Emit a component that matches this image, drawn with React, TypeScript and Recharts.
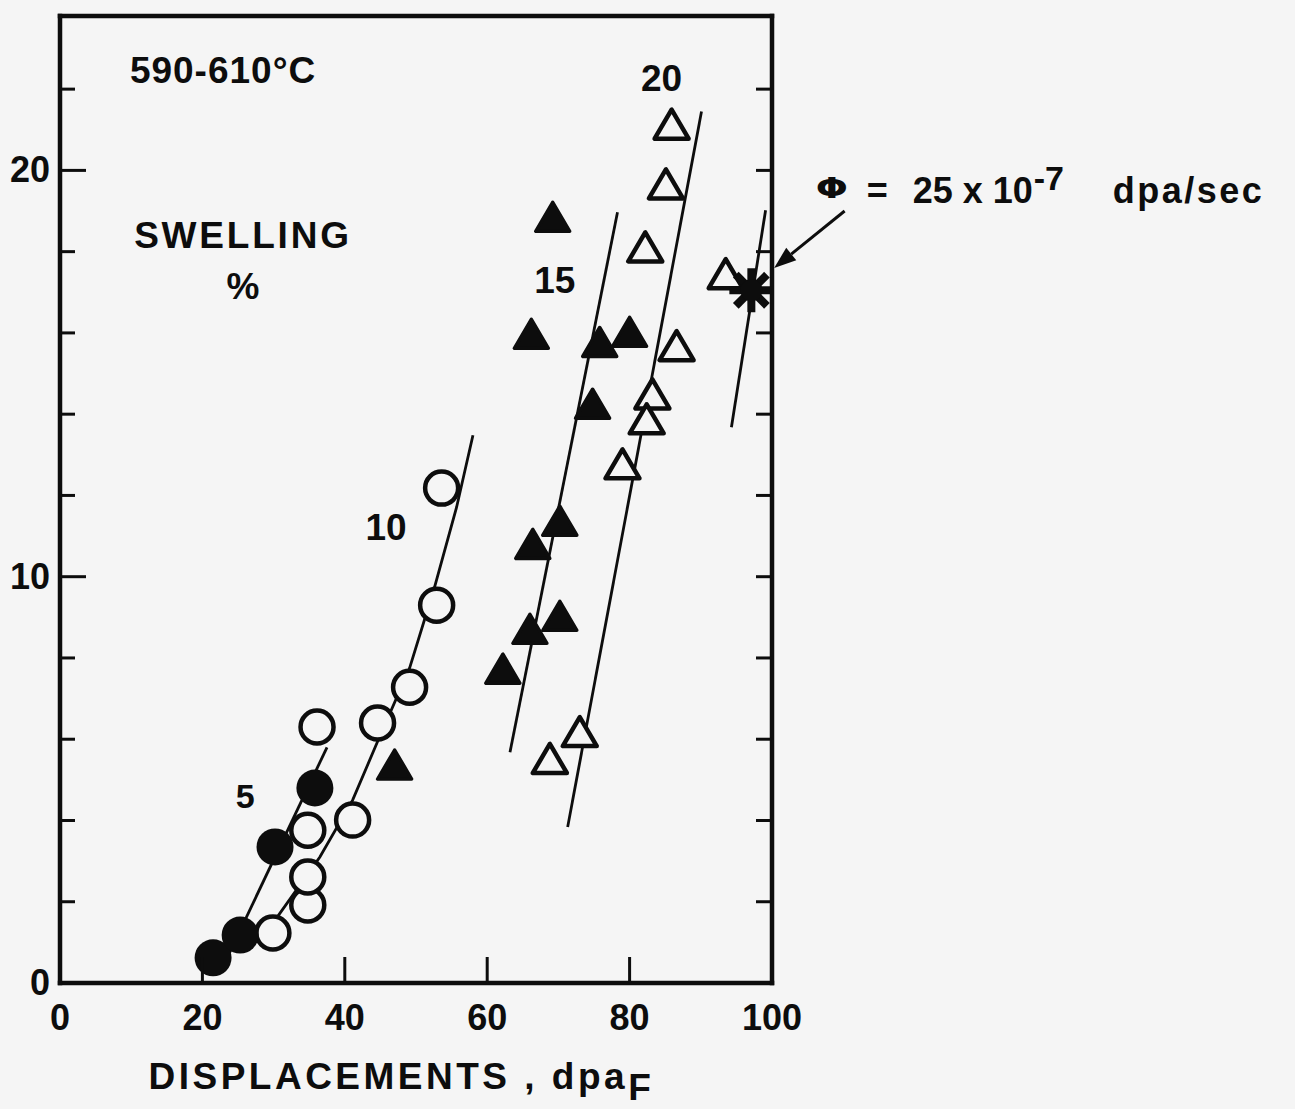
import React from "react";
import {
  ScatterChart,
  Scatter,
  XAxis,
  YAxis,
  ReferenceDot,
  ReferenceLine,
} from "recharts";

// Swelling (%) vs displacement dose, one group per flux (x10^-7 dpa/sec)
const flux5X = [21.5, 25.3, 30.2, 35.8];
const flux5Y = [0.62, 1.18, 3.35, 4.8];

const flux10X = [29.9, 34.8, 34.8, 34.8, 36.1, 41.1, 44.6, 49.1, 52.9, 53.6];
const flux10Y = [1.23, 1.92, 2.61, 3.76, 6.3, 4.01, 6.4, 7.28, 9.3, 12.18];

const flux15X = [47.0, 62.2, 66.0, 70.2, 66.4, 70.2, 74.8, 75.8, 80.0, 66.2, 69.2];
const flux15Y = [5.34, 7.7, 8.68, 9.0, 10.77, 11.34, 14.22, 15.74, 15.99, 15.94, 18.82];

const flux20X = [85.9, 85.1, 82.2, 93.5, 86.6, 83.2, 82.4, 79.0, 73.0, 68.8];
const flux20Y = [21.1, 19.63, 18.08, 17.42, 15.65, 14.46, 13.85, 12.74, 6.15, 5.49];

const flux25X = [97.1];
const flux25Y = [17.05];

// hand-drawn trend lines through each group
const trend5X = [22.6, 37.5];
const trend5Y = [0.3, 5.8];
const trend10X = [28.8, 30.9, 36.5, 41.1, 44.5, 49.1, 52.6, 55.7, 58.0];
const trend10Y = [1.2, 1.72, 3.1, 4.5, 5.9, 7.75, 9.74, 11.71, 13.48];
const trend15X = [63.2, 78.3];
const trend15Y = [5.68, 18.97];
const trend20X = [71.3, 90.1];
const trend20Y = [3.84, 21.45];
const trend25X = [94.3, 99.1];
const trend25Y = [13.68, 19.02];

const xTicks = [0, 20, 40, 60, 80, 100];
const xTopTicks = [20, 40, 60, 80];
const yTicks = [0, 2, 4, 6, 8, 10, 12, 14, 16, 18, 20, 22];
const yRightTicks = [2, 4, 6, 8, 10, 12, 14, 16, 18, 20, 22];

const zip = (xs: number[], ys: number[]) => xs.map((x, i) => ({ x, y: ys[i] }));

const BG = "#f5f5f5";
const INK = "#0d0d0d";
const FONT = '"Liberation Sans", Arial, Helvetica, sans-serif';

const W = 1295;
const H = 1109;

const OpenCircle = ({ cx, cy }: any) => (
  <circle cx={cx} cy={cy} r={16.5} fill={BG} stroke={INK} strokeWidth={4.5} />
);

const FilledCircle = ({ cx, cy }: any) => (
  <circle cx={cx} cy={cy} r={18.5} fill={INK} />
);

const triPoints = (cx: number, cy: number) =>
  `${cx},${cy - 16} ${cx - 17},${cy + 13} ${cx + 17},${cy + 13}`;

const FilledTriangle = ({ cx, cy }: any) => (
  <polygon
    points={triPoints(cx, cy)}
    fill={INK}
    stroke={INK}
    strokeWidth={3.5}
    strokeLinejoin="round"
  />
);

const OpenTriangle = ({ cx, cy }: any) => (
  <polygon
    points={triPoints(cx, cy)}
    fill={BG}
    stroke={INK}
    strokeWidth={4.5}
    strokeLinejoin="round"
  />
);

const Asterisk = ({ cx, cy }: any) => (
  <g stroke={INK} strokeWidth={8}>
    {[0, 45, 90, 135].map((a) => {
      const r = (a * Math.PI) / 180;
      const dx = Math.cos(r) * 22;
      const dy = Math.sin(r) * 22;
      return <line key={a} x1={cx - dx} y1={cy - dy} x2={cx + dx} y2={cy + dy} />;
    })}
    <circle cx={cx} cy={cy} r={11} fill={INK} stroke="none" />
  </g>
);

const NoDot = () => <g />;

const Arrow = ({ x1, y1, x2, y2 }: any) => {
  const ang = Math.atan2(y2 - y1, x2 - x1);
  const len = 22;
  const half = 8;
  const bx = x2 - len * Math.cos(ang);
  const by = y2 - len * Math.sin(ang);
  const px = -Math.sin(ang) * half;
  const py = Math.cos(ang) * half;
  return (
    <g>
      <line x1={x1} y1={y1} x2={bx} y2={by} stroke={INK} strokeWidth={3} />
      <polygon
        points={`${x2},${y2} ${bx + px},${by + py} ${bx - px},${by - py}`}
        fill={INK}
      />
    </g>
  );
};

const textStyle = {
  fontFamily: FONT,
  fontWeight: 700,
  fill: INK,
};

const label =
  (text: string, size: number, spacing = 0) =>
  ({ cx, cy }: any) => (
    <text
      x={cx}
      y={cy}
      textAnchor="middle"
      dominantBaseline="central"
      fontSize={size}
      letterSpacing={spacing}
      style={textStyle}
    >
      {text}
    </text>
  );

const XTitle = ({ cx, cy }: any) => (
  <text x={cx} y={cy} textAnchor="middle" fontSize={37} letterSpacing={3.5} style={textStyle}>
    DISPLACEMENTS , dpa
    <tspan dy={11} letterSpacing={0}>F</tspan>
  </text>
);

// flux annotation; the phi is drawn wide and short like a typewriter glyph
const FluxNote = ({ cx, cy }: any) => (
  <g>
    <text
      transform={`translate(${cx + 17}, ${cy - 15}) scale(1.35, 1)`}
      textAnchor="middle"
      dominantBaseline="central"
      fontSize={28}
      style={{ ...textStyle, fontFamily: '"DejaVu Sans", sans-serif' }}
    >
      Φ
    </text>
    <text x={cx} y={cy} fontSize={36} style={textStyle}>
      <tspan x={cx + 52}>=</tspan>
      <tspan x={cx + 98}>25 x 10</tspan>
      <tspan x={cx + 219} dy={-13} fontSize={34}>-7</tspan>
      <tspan x={cx + 298} dy={13} letterSpacing={2.5}>dpa/sec</tspan>
    </text>
  </g>
);

const LeftTick = ({ x, y, payload }: any) => {
  const v = payload.value;
  const major = v % 10 === 0;
  return (
    <g>
      {v > 0 && (
        <line x1={x} y1={y} x2={x + (major ? 26 : 15)} y2={y} stroke={INK} strokeWidth={3} />
      )}
      {major && (
        <text x={x - 10} y={y} dy={12} textAnchor="end" fontSize={36} style={textStyle}>
          {v}
        </text>
      )}
    </g>
  );
};

const RightTick = ({ x, y }: any) => (
  <line x1={x} y1={y} x2={x - 16} y2={y} stroke={INK} strokeWidth={3} />
);

const BottomTick = ({ x, y, payload }: any) => {
  const v = payload.value;
  return (
    <g>
      {v > 0 && v < 100 && (
        <line x1={x} y1={y} x2={x} y2={y - 26} stroke={INK} strokeWidth={3} />
      )}
      <text x={x} y={y} dy={47} textAnchor="middle" fontSize={36} style={textStyle}>
        {v}
      </text>
    </g>
  );
};

const TopTick = ({ x, y }: any) => (
  <line x1={x} y1={y} x2={x} y2={y + 21} stroke={INK} strokeWidth={3} />
);

const frameLine = { stroke: INK, strokeWidth: 4.5, strokeLinecap: "square" as const };

const trendLine = { stroke: INK, strokeWidth: 2.8 };

export default function App() {
  return (
    <div
      style={{
        position: "absolute",
        left: 0,
        top: 0,
        width: W,
        height: H,
        background: BG,
      }}
    >
      <ScatterChart
        width={W}
        height={H}
        margin={{ top: 15, right: 522, bottom: 66, left: 0 }}
      >
        <XAxis
          type="number"
          dataKey="x"
          domain={[0, 100]}
          ticks={xTicks}
          allowDataOverflow
          height={60}
          tickSize={0}
          tickMargin={0}
          axisLine={frameLine}
          tickLine={false}
          tick={<BottomTick />}
          interval={0}
        />
        <XAxis
          xAxisId="top"
          orientation="top"
          type="number"
          domain={[0, 100]}
          ticks={xTopTicks}
          allowDataOverflow
          height={1}
          tickSize={0}
          tickMargin={0}
          axisLine={frameLine}
          tickLine={false}
          tick={<TopTick />}
          interval={0}
        />
        <YAxis
          type="number"
          dataKey="y"
          domain={[0, 23.8]}
          ticks={yTicks}
          allowDataOverflow
          width={60}
          tickSize={0}
          tickMargin={0}
          axisLine={frameLine}
          tickLine={false}
          tick={<LeftTick />}
          interval={0}
        />
        <YAxis
          yAxisId="right"
          orientation="right"
          type="number"
          domain={[0, 23.8]}
          ticks={yRightTicks}
          allowDataOverflow
          width={1}
          tickSize={0}
          tickMargin={0}
          axisLine={frameLine}
          tickLine={false}
          tick={<RightTick />}
          interval={0}
        />

        {/* trend lines go under the markers */}
        <Scatter data={zip(trend5X, trend5Y)} line={trendLine} shape={<NoDot />} isAnimationActive={false} />
        <Scatter data={zip(trend10X, trend10Y)} line={trendLine} shape={<NoDot />} isAnimationActive={false} />
        <Scatter data={zip(trend15X, trend15Y)} line={trendLine} shape={<NoDot />} isAnimationActive={false} />
        <Scatter data={zip(trend20X, trend20Y)} line={trendLine} shape={<NoDot />} isAnimationActive={false} />
        <Scatter data={zip(trend25X, trend25Y)} line={trendLine} shape={<NoDot />} isAnimationActive={false} />

        <Scatter data={zip(flux10X, flux10Y)} shape={<OpenCircle />} isAnimationActive={false} />
        <Scatter data={zip(flux5X, flux5Y)} shape={<FilledCircle />} isAnimationActive={false} />
        <Scatter data={zip(flux15X, flux15Y)} shape={<FilledTriangle />} isAnimationActive={false} />
        <Scatter data={zip(flux20X, flux20Y)} shape={<OpenTriangle />} isAnimationActive={false} />
        <Scatter data={zip(flux25X, flux25Y)} shape={<Asterisk />} isAnimationActive={false} />

        {/* text annotations */}
        <ReferenceDot x={22.9} y={22.46} ifOverflow="visible" shape={label("590-610°C", 37, 1)} />
        <ReferenceDot x={25.7} y={18.4} ifOverflow="visible" shape={label("SWELLING", 37, 2.8)} />
        <ReferenceDot x={25.7} y={17.15} ifOverflow="visible" shape={label("%", 37)} />
        <ReferenceDot x={26.0} y={4.6} ifOverflow="visible" shape={label("5", 34)} />
        <ReferenceDot x={45.8} y={11.2} ifOverflow="visible" shape={label("10", 37)} />
        <ReferenceDot x={69.5} y={17.3} ifOverflow="visible" shape={label("15", 37)} />
        <ReferenceDot x={84.5} y={22.25} ifOverflow="visible" shape={label("20", 37)} />
        <ReferenceDot x={47.7} y={-2.6} ifOverflow="visible" shape={<XTitle />} />
        <ReferenceDot x={106.0} y={19.19} ifOverflow="visible" shape={<FluxNote />} />
        <ReferenceLine
          segment={[
            { x: 110.2, y: 19.0 },
            { x: 100.3, y: 17.6 },
          ]}
          ifOverflow="visible"
          shape={<Arrow />}
        />
      </ScatterChart>
    </div>
  );
}
